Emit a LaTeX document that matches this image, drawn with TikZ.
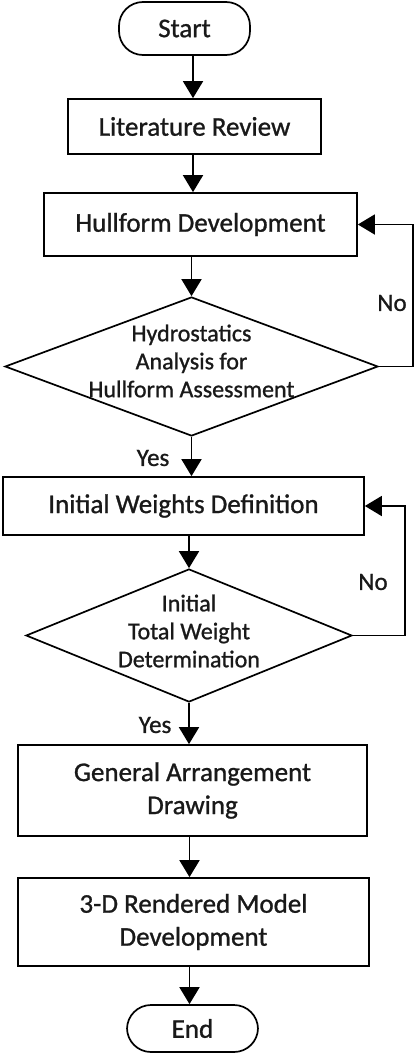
\documentclass[tikz,border=0pt]{standalone}
\usepackage{fontspec}
\setmainfont{Carlito}
\newfontfamily\chartfont{Carlito}[FakeBold=1]
\usepackage{tikz}
\usetikzlibrary{arrows.meta,shapes.geometric}

\tikzset{
  stepbox/.style={rectangle,draw,line width=1.7pt,inner sep=0pt,align=center,
                  text=black!90,font=\chartfont\fontsize{27}{33}\selectfont},
  termbox/.style={stepbox,rounded corners=24pt},
  decbox/.style={diamond,draw,line width=1.7pt,inner sep=0pt},
  dectext/.style={align=center,inner sep=0pt,text=black!90,font=\chartfont\fontsize{24}{28}\selectfont},
  answer/.style={inner sep=0pt,text=black!90,font=\chartfont\fontsize{25}{30}\selectfont},
  flow/.style={line width=1.7pt,-{Triangle[length=17pt,width=20pt]}}
}

\begin{document}
\begin{tikzpicture}[x=1pt,y=-1pt]
  \useasboundingbox (0,0) rectangle (415,1054);

  % steps
  \node[termbox,minimum width=131pt,minimum height=53pt] (start) at (184.5,28.5) {Start};
  \node[stepbox,minimum width=253pt,minimum height=55pt] (litrev) at (194.5,126.5) {Literature Review};
  \node[stepbox,minimum width=313pt,minimum height=63pt] (hullform) at (200.5,224.5) {Hullform Development};
  \node[decbox,minimum width=373pt,minimum height=139pt] (hydro) at (191.5,366.5) {};
  \node[dectext] (hydrotext) at (191.5,361) {Hydrostatics\\Analysis for\\Hullform Assessment};
  \node[stepbox,minimum width=361pt,minimum height=58pt] (weights) at (183.5,506) {Initial Weights Definition};
  \node[decbox,minimum width=326pt,minimum height=133pt] (total) at (189,635.5) {};
  \node[dectext] (totaltext) at (189,631) {Initial\\Total Weight\\Determination};
  \node[stepbox,minimum width=349pt,minimum height=91pt] (genarr) at (192.5,790.5) {General Arrangement\\Drawing};
  \node[stepbox,minimum width=351pt,minimum height=88pt] (render) at (193.5,922) {3-D Rendered Model\\Development};
  \node[termbox,minimum width=131pt,minimum height=47pt] (end) at (192.5,1028.5) {End};

  % answers
  \node[answer] (yesa) at (153,458) {Yes};
  \node[answer] (yesb) at (155,725) {Yes};
  \node[answer] (noa) at (392,303) {No};
  \node[answer] (nob) at (373,582) {No};

  \coordinate (axisa) at (193,0);
  \coordinate (axisb) at (189.5,0);
  \coordinate (loopa) at (413,300);
  \coordinate (loopb) at (405,570);

  % flow
  \draw[flow] (start.south -| axisa) -- (litrev.north -| axisa);
  \draw[flow] (litrev.south -| axisa) -- (hullform.north -| axisa);
  \draw[flow] (hullform.south -| hydro.north) -- (hydro.north);
  \draw[flow] (hydro.south) -- (hydro.south |- weights.north);
  \draw[flow] (weights.south -| total.north) -- (total.north);
  \draw[flow] (total.south) -- (total.south |- genarr.north);
  \draw[flow] (genarr.south -| axisb) -- (render.north -| axisb);
  \draw[flow] (render.south -| axisb) -- (end.north -| axisb);

  % loops back
  \draw[flow] (hydro.east) -| (loopa) |- (hullform.east);
  \draw[flow] (total.east) -| (loopb) |- (weights.east);
\end{tikzpicture}
\end{document}
